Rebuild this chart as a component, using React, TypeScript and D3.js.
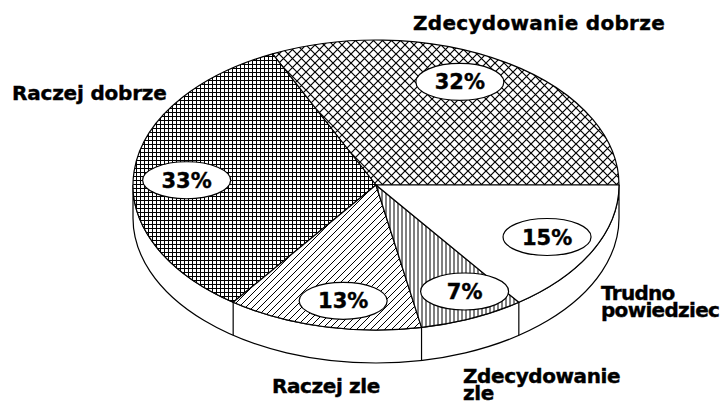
import * as d3 from "d3";
import React from "react";

// survey answers, share in percent
const categories = ["Zdecydowanie dobrze", "Raczej dobrze", "Raczej zle", "Zdecydowanie zle", "Trudno powiedziec"];
const values = [32, 33, 13, 7, 15];
const fills = ["url(#cross)", "url(#grid)", "url(#diag)", "url(#vert)", "#fff"];
const outerLabels = [["Zdecydowanie dobrze"], ["Raczej dobrze"], ["Raczej zle"], ["Zdecydowanie", "zle"], ["Trudno", "powiedziec"]];

// layout
const W = 725, H = 402;
const cx = 376, cy = 185, rx = 243, ry = 145, depth = 33;
const labelR = [0.79, 0.78, 0.81, 0.82, 0.79];
const labelNudge = [6.5, 3, 3, 3, 0]; // degrees
const outerPos = [[413, 30], [12, 100], [272, 393], [463, 383], [601, 300]];
const outerSpacing = [0.3, -0.2, -0.4, -0.4, -0.7];
const lineGap = 17;
const font = "'DejaVu Sans', sans-serif";

const px = (t: number, k = 1) => cx + rx * k * Math.cos(t);
const py = (t: number, k = 1) => cy - ry * k * Math.sin(t);

export default function App() {
  const arcs = d3.pie<number>().sort(null).value(d => d).startAngle(0).endAngle(2 * Math.PI)(values);

  const slicePath = (a0: number, a1: number) => {
    const large = a1 - a0 > Math.PI ? 1 : 0;
    return `M${cx},${cy}L${px(a0)},${py(a0)}A${rx},${ry} 0 ${large} 0 ${px(a1)},${py(a1)}Z`;
  };

  const sidePath =
    `M${px(Math.PI)},${py(Math.PI)}A${rx},${ry} 0 0 0 ${px(2 * Math.PI)},${py(2 * Math.PI)}` +
    `L${px(2 * Math.PI)},${py(2 * Math.PI) + depth}A${rx},${ry} 0 0 1 ${px(Math.PI)},${py(Math.PI) + depth}Z`;

  const edges = arcs.map(a => a.startAngle).filter(t => t > Math.PI && t < 2 * Math.PI);

  return (
    <svg width={W} height={H} style={{ position: "absolute", left: 0, top: 0, background: "#fff" }}>
      <defs>
        <pattern id="grid" patternUnits="userSpaceOnUse" width={4} height={4}>
          <rect width={4} height={4} fill="#fff" />
          <path d="M0,0.5H4M0.5,0V4" stroke="#000" strokeWidth={1} />
        </pattern>
        <pattern id="cross" patternUnits="userSpaceOnUse" width={9} height={9}>
          <rect width={9} height={9} fill="#fff" />
          <path d="M-1,-1L10,10M10,-1L-1,10" stroke="#000" strokeWidth={1.2} />
        </pattern>
        <pattern id="diag" patternUnits="userSpaceOnUse" width={7} height={7}>
          <rect width={7} height={7} fill="#fff" />
          <path d="M-1,8L8,-1M-1,1L1,-1M6,8L8,6" stroke="#000" strokeWidth={1} />
        </pattern>
        <pattern id="vert" patternUnits="userSpaceOnUse" width={4} height={4}>
          <rect width={4} height={4} fill="#fff" />
          <path d="M2,0V4" stroke="#000" strokeWidth={1} />
        </pattern>
      </defs>

      <path d={sidePath} fill="#fff" stroke="#000" strokeWidth={1.2} />
      {edges.map((t, i) => (
        <line key={i} x1={px(t)} y1={py(t)} x2={px(t)} y2={py(t) + depth} stroke="#000" strokeWidth={1.2} />
      ))}

      {arcs.map((a, i) => (
        <path key={i} d={slicePath(a.startAngle, a.endAngle)} fill={fills[i]} stroke="#000" strokeWidth={1.2} strokeLinejoin="round" />
      ))}

      {arcs.map((a, i) => {
        const t = (a.startAngle + a.endAngle) / 2 + (labelNudge[i] * Math.PI) / 180;
        const x = px(t, labelR[i]), y = py(t, labelR[i]);
        return (
          <g key={i}>
            <ellipse cx={x} cy={y} rx={44} ry={18.5} fill="#fff" stroke="#000" strokeWidth={1.2} />
            <text x={x} y={y + 7.5} textAnchor="middle" fontFamily={font} fontWeight="bold" fontSize={21}
              stroke="#000" strokeWidth={0.4}>
              {values[i]}%
            </text>
          </g>
        );
      })}

      {outerLabels.map((lines, i) => (
        <text key={i} fontFamily={font} fontWeight="bold" fontSize={20} fill="#000"
          stroke="#000" strokeWidth={0.4} letterSpacing={outerSpacing[i]}>
          {lines.map((l, j) => (
            <tspan key={j} x={outerPos[i][0]} y={outerPos[i][1] + j * lineGap}>{l}</tspan>
          ))}
        </text>
      ))}
    </svg>
  );
}
